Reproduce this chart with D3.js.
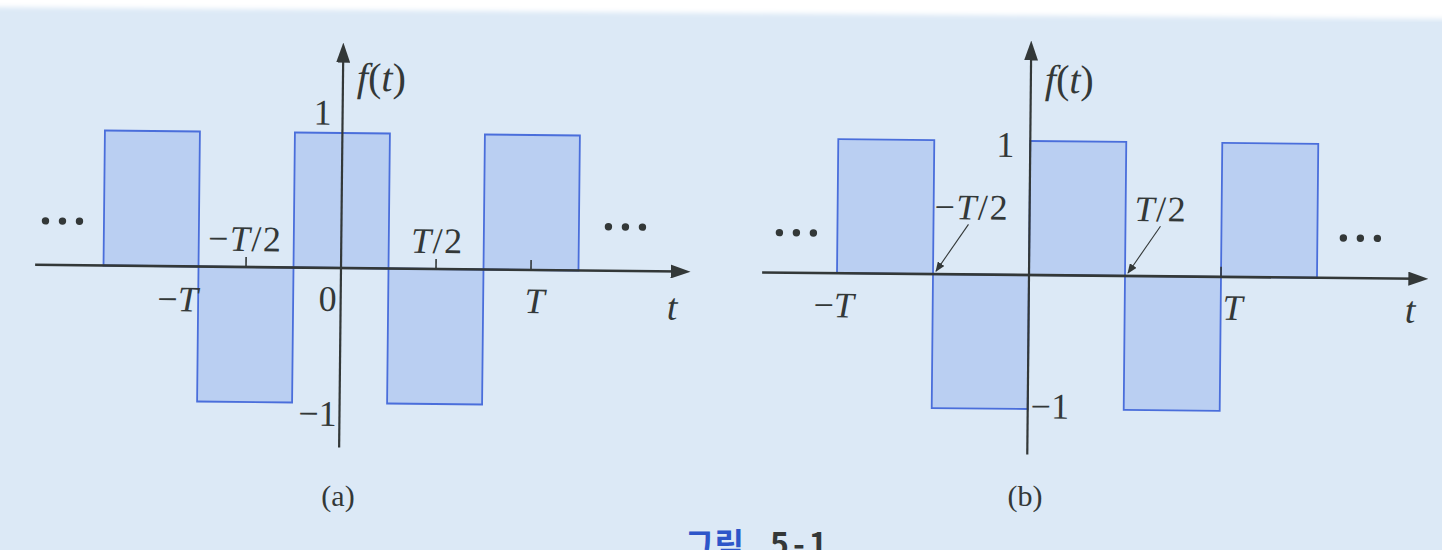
<!DOCTYPE html>
<html>
<head>
<meta charset="utf-8">
<script src="https://cdn.jsdelivr.net/npm/d3@7"></script>
<style>
  html, body { margin: 0; padding: 0; background: #dce9f6; overflow: hidden; }
  svg { display: block; }
</style>
</head>
<body>
<svg id="fig" width="1442" height="550"></svg>
<script>
// Square-wave pulses; t is measured in periods T, f(t) in units of amplitude
const segStartA = [-1.25, -0.75, -0.25, 0.25, 0.75];
const segValueA = [1, -1, 1, -1, 1];
const segStartB = [-1, -0.5, 0, 0.5, 1];
const segValueB = [1, -1, 1, -1, 1];
const segWidth = 0.5;

// Axis extents (t range of the horizontal axis, f range of the vertical axis)
const tExtentA = [-1.61, 1.84];
const fExtentA = [-1.33, 1.67];
const tExtentB = [-1.39, 2.08];
const fExtentB = [-1.34, 1.75];

// Tick positions on the t axis
const tickTA = [-0.5, 0.5, 1];
const tickTB = [1];

// Tick labels
const tLabelsA = [
  { t: -0.5, text: "−T/2", dx: -1, dy: -16, anchor: "middle" },
  { t: 0.5,  text: "T/2",  dx: 1,  dy: -16, anchor: "middle" },
  { t: -1,   text: "−T",   dx: 27, dy: 45,  anchor: "middle" },
  { t: 0,    text: "0",    dx: -13, dy: 43, anchor: "middle" },
  { t: 1,    text: "T",    dx: 4,  dy: 43,  anchor: "middle" }
];
const fLabelsA = [
  { f: 1,  text: "1",  dx: -20, anchor: "middle", rel: -0.06 },
  { f: -1, text: "−1", dx: -22, anchor: "middle", rel: 0.17 }
];
const tLabelsB = [
  { t: -0.5, text: "−T/2", dx: 1,  dy: -55, anchor: "start" },
  { t: 0.5,  text: "T/2",  dx: 9,  dy: -55, anchor: "start" },
  { t: -1,   text: "−T",   dx: -3, dy: 44,  anchor: "middle" },
  { t: 1,    text: "T",    dx: 12, dy: 43,  anchor: "middle" }
];
const fLabelsB = [
  { f: 1,  text: "1",  dx: -25, anchor: "middle", rel: 0.12 },
  { f: -1, text: "−1", dx: 3,   anchor: "start",  rel: 0.07 }
];
// Label pointers on panel (b): t positions the arrows point at
const pointerTB = [-0.5, 0.5];

const panelTitles = ["(a)", "(b)"];
const captionWord = "그림";
const captionNum = "5-1";

const ink = "#333838";
const pulseFill = "#bacff2";
const pulseStroke = "#4a6edb";
const serif = "'Liberation Serif', 'DejaVu Serif', serif";

const svg = d3.select("#fig");
const defs = svg.append("defs");

// Paper background with a brighter band along the top edge
svg.append("rect").attr("width", 1442).attr("height", 550).attr("fill", "#dce9f6");
defs.append("filter").attr("id", "soft")
  .append("feGaussianBlur").attr("stdDeviation", 2.5);
svg.append("polygon")
  .attr("points", "-10,-10 1452,-10 1452,19 -10,7")
  .attr("fill", "#ffffff").attr("filter", "url(#soft)");

// Arrowheads
defs.append("marker").attr("id", "axisHead")
  .attr("viewBox", "0 0 20 14").attr("markerUnits", "userSpaceOnUse")
  .attr("markerWidth", 20).attr("markerHeight", 14)
  .attr("refX", 10).attr("refY", 7).attr("orient", "auto")
  .append("path").attr("d", "M0,0 L20,7 L0,14 Z").attr("fill", ink);
defs.append("marker").attr("id", "ptrHead")
  .attr("viewBox", "0 0 10 8").attr("markerUnits", "userSpaceOnUse")
  .attr("markerWidth", 10).attr("markerHeight", 8)
  .attr("refX", 9).attr("refY", 4).attr("orient", "auto")
  .append("path").attr("d", "M0,0 L10,4 L0,8 Z").attr("fill", ink);

// Writes a math label: T, t and f in italics, everything else upright
function mathText(sel, str) {
  const runs = [];
  for (const ch of str) {
    const it = "Ttf".includes(ch);
    if (runs.length && runs[runs.length - 1].it === it) runs[runs.length - 1].s += ch;
    else runs.push({ s: ch, it });
  }
  runs.forEach(r => sel.append("tspan").attr("font-style", r.it ? "italic" : "normal").text(r.s));
  return sel;
}

function label(g, x, y, str, anchor, size, spacing) {
  const t = g.append("text").attr("x", x).attr("y", y)
    .attr("text-anchor", anchor).attr("font-family", serif)
    .attr("font-size", size || 36).attr("fill", ink)
    .attr("letter-spacing", spacing || 0);
  mathText(t, str);
  return t;
}

function drawPanel(cfg) {
  const g = svg.append("g").attr("transform", `rotate(${cfg.rot},${cfg.ox},${cfg.oy})`);
  const x = d3.scaleLinear().domain([0, 1]).range([cfg.ox, cfg.ox + cfg.Tpx]);
  const y = d3.scaleLinear().domain([0, 1]).range([cfg.oy, cfg.oy - cfg.amp]);

  // pulses
  g.selectAll("rect.pulse").data(d3.zip(cfg.starts, cfg.values)).join("rect")
    .attr("class", "pulse")
    .attr("x", d => x(d[0]))
    .attr("width", d => x(d[0] + segWidth) - x(d[0]))
    .attr("y", d => y(Math.max(0, d[1])))
    .attr("height", d => Math.abs(y(d[1]) - y(0)))
    .attr("fill", pulseFill).attr("stroke", pulseStroke).attr("stroke-width", 1.8);

  // t axis and f axis
  g.append("line")
    .attr("x1", x(cfg.tExt[0])).attr("x2", x(cfg.tExt[1]) - 10)
    .attr("y1", y(0)).attr("y2", y(0))
    .attr("stroke", ink).attr("stroke-width", 2.6).attr("marker-end", "url(#axisHead)");
  g.append("line")
    .attr("x1", x(0)).attr("x2", x(0))
    .attr("y1", y(cfg.fExt[0])).attr("y2", y(cfg.fExt[1]) + 10)
    .attr("stroke", ink).attr("stroke-width", 2.2).attr("marker-end", "url(#axisHead)");

  // ticks
  g.selectAll("line.tick").data(cfg.ticks).join("line")
    .attr("class", "tick")
    .attr("x1", d => x(d)).attr("x2", d => x(d))
    .attr("y1", y(0)).attr("y2", y(0) - 10)
    .attr("stroke", ink).attr("stroke-width", 1.6);

  // continuation dots
  const dotY = y(0) - cfg.dotRise;
  [cfg.dotsLeft, cfg.dotsRight].forEach(x0 => {
    g.selectAll(null).data([0, 1, 2]).join("circle")
      .attr("cx", i => x0 + i * 17).attr("cy", dotY).attr("r", 3.7).attr("fill", ink);
  });

  // labels on the axes
  cfg.tLabels.forEach(l => label(g, x(l.t) + l.dx, y(0) + l.dy, l.text, l.anchor, 36, l.text.includes("/") ? 1.5 : 0));
  cfg.fLabels.forEach(l => label(g, x(0) + l.dx, y(l.f) + l.rel * cfg.amp, l.text, l.anchor, 36));
  label(g, x(cfg.tExt[1]) - 18, y(0) + cfg.tNameDy, "t", "middle", 38);
  label(g, x(0) + 14, y(cfg.fExt[1]) + cfg.fNameDy, "f(t)", "start", 40);

  // pointers from labels to the crossings
  (cfg.pointers || []).forEach(p => {
    g.append("line")
      .attr("x1", x(p) + 35).attr("y1", y(0) - 50)
      .attr("x2", x(p) + 3).attr("y2", y(0) - 3)
      .attr("stroke", ink).attr("stroke-width", 1.1).attr("marker-end", "url(#ptrHead)");
  });
  return g;
}

drawPanel({
  ox: 341, oy: 268, Tpx: 190, amp: 135, rot: 0.6,
  starts: segStartA, values: segValueA, tExt: tExtentA, fExt: fExtentA,
  ticks: tickTA, tLabels: tLabelsA, fLabels: fLabelsA,
  dotsLeft: 45, dotsRight: 608, dotRise: 44, tNameDy: 48, fNameDy: 48
});
drawPanel({
  ox: 1029, oy: 275, Tpx: 192, amp: 134, rot: 0.55,
  starts: segStartB, values: segValueB, tExt: tExtentB, fExt: fExtentB,
  ticks: tickTB, tLabels: tLabelsB, fLabels: fLabelsB, pointers: pointerTB,
  dotsLeft: 779, dotsRight: 1343, dotRise: 40, tNameDy: 44, fNameDy: 52
});

// panel titles
const titleX = [338, 1025];
panelTitles.forEach((s, i) => label(svg, titleX[i], 506, s, "middle", 30));

// figure caption along the bottom edge
const cap = svg.append("text").attr("x", 685).attr("y", 556)
  .attr("font-family", "'Noto Sans CJK KR', sans-serif").attr("font-weight", "bold")
  .attr("font-size", 32);
cap.append("tspan").attr("fill", "#2d55c9").text(captionWord);
cap.append("tspan").attr("x", 770).attr("fill", "#343838").attr("letter-spacing", 4).text(captionNum);
</script>
</body>
</html>
